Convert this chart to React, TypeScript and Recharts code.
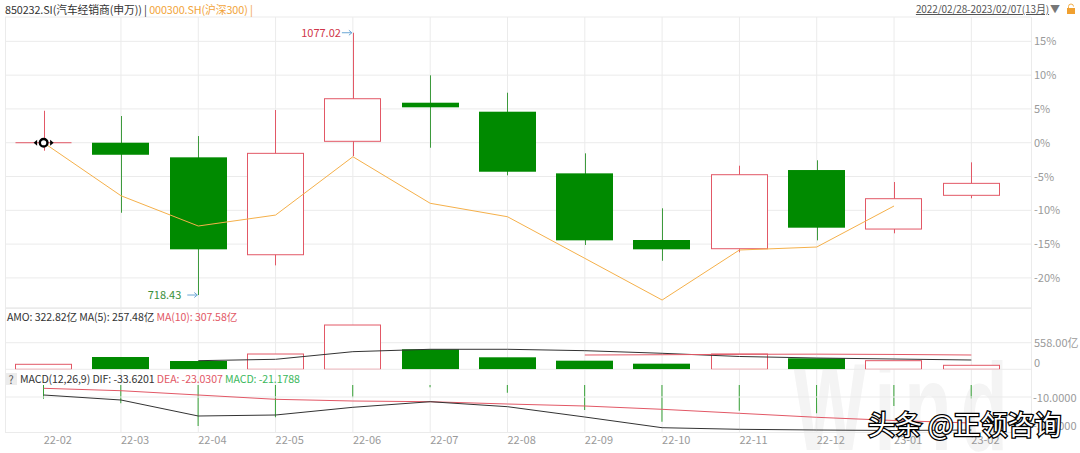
import React from "react";
import {
  ComposedChart,
  Bar,
  Line,
  XAxis,
  YAxis,
  CartesianGrid,
  ReferenceLine,
  ReferenceDot,
} from "recharts";

const W = 1080;
const H = 453;
const FONT = "'Noto Sans CJK SC', 'Noto Sans', sans-serif";

const RED = "#e25866";
const GREEN = "#008a00";
const GREEN_WICK = "#3d9a3d";
const MACD_GREEN = "#35a035";
const ORANGE = "#f5b04a";
const GRID = "#ebebeb";
const AXIS_TEXT = "#9a9a9a";

// months (x axis)
const months = [
  "22-02", "22-03", "22-04", "22-05", "22-06", "22-07", "22-08",
  "22-09", "22-10", "22-11", "22-12", "23-01", "23-02",
];

// 850232.SI monthly candles, % change vs. 22-02 close
const openPct = [0, 0, -2.16, -16.57, 0.21, 5.92, 4.59, -4.53, -14.39, -15.68, -4.04, -12.77, -7.78];
const highPct = [4.73, 3.95, 0.99, 4.84, 16.27, 9.97, 7.4, -1.57, -9.7, -3.4, -2.6, -5.81, -2.9];
const lowPct = [-1.18, -10.36, -22.53, -18.14, -1.97, -0.74, -4.82, -15.13, -17.46, -16.21, -14.44, -13.4, -8.22];
const closePct = [0, -1.78, -15.77, -1.57, 6.51, 5.24, -4.29, -14.44, -15.77, -4.73, -12.57, -8.28, -6.01];

// 000300.SH, % change
const hs300Pct = [0, -7.84, -12.32, -10.7, -2.07, -8.96, -10.95, -17.1, -23.27, -15.87, -15.43, -9.36, null];

// turnover (亿) and its moving averages
const amo = [105, 258, 174, 321, 930, 420, 252, 181, 118, 321, 231, 181, 84];
const amoMa5 = [null, null, 181, 210, 370, 420, 420, 391, 336, 269, 237, 216, 195];
const amoMa10 = [null, null, null, null, null, null, null, 300, 306, 315, 318, 312, 300];

// MACD(12,26,9)
const dif = [-8.55, -12.18, -23.82, -23.09, -17.49, -13.42, -17.05, -24.55, -32.33, -33.49, -34.0, -34.36, -34.0];
const dea = [-3.67, -5.42, -8.55, -11.67, -12.91, -13.42, -15.09, -16.55, -18.95, -21.85, -24.76, -27.09, -28.91];
const macdHist = [-11.24, -14.58, -31.09, -24.76, -10.22, -2.95, -6.87, -19.45, -27.96, -19.96, -21.85, -16.55, -10.95];

const pctTicks = [15, 10, 5, 0, -5, -10, -15, -20];
const amoTicks = [0, 558];
const macdTicks = [-10, -30];

const HIGH_PRICE = "1077.02";
const LOW_PRICE = "718.43";

const rows = months.map((month, i) => ({
  month,
  open: openPct[i],
  high: highPct[i],
  low: lowPct[i],
  close: closePct[i],
  range: [lowPct[i], highPct[i]],
  hs300: hs300Pct[i],
  amo: amo[i],
  ma5: amoMa5[i],
  ma10: amoMa10[i],
  dif: dif[i],
  dea: dea[i],
  hist: macdHist[i],
}));

const highIdx = highPct.indexOf(Math.max(...highPct));
const lowIdx = lowPct.indexOf(Math.min(...lowPct));

const X_PAD = { left: 0, right: 21 };

function Candle(props: any) {
  const { x, y, width, height, payload } = props;
  const { open, close, high, low } = payload;
  const py = (v: number) => y + ((high - v) / (high - low)) * height;
  const cx = Math.round(x + width / 2) + 0.5;
  const up = close >= open;
  const top = py(Math.max(open, close));
  const bot = py(Math.min(open, close));
  const left = Math.round(x) + 0.5;
  const w = Math.round(width) - 1;
  return (
    <g>
      <line x1={cx} x2={cx} y1={y} y2={y + height} stroke={up ? RED : GREEN_WICK} />
      {open === close ? (
        <line x1={left} x2={left + w} y1={top} y2={top} stroke={RED} />
      ) : up ? (
        <rect x={left} y={top} width={w} height={bot - top} fill="#fff" stroke={RED} />
      ) : (
        <rect x={left - 0.5} y={top} width={w + 1} height={bot - top} fill={GREEN} />
      )}
    </g>
  );
}

function VolBar(props: any) {
  const { x, y, width, height, payload } = props;
  const up = payload.close >= payload.open;
  const left = Math.round(x) + 0.5;
  const w = Math.round(width) - 1;
  return up ? (
    <rect x={left} y={y} width={w} height={height} fill="#fff" stroke={RED} />
  ) : (
    <rect x={left - 0.5} y={y} width={w + 1} height={height} fill={GREEN} />
  );
}

function HighMark(props: any) {
  const { cx, cy } = props;
  return (
    <g>
      <text x={cx - 12} y={cy + 4} textAnchor="end" fill="#d0364a" fontSize={11}>
        {HIGH_PRICE}
      </text>
      <line x1={cx - 11} x2={cx - 1} y1={cy} y2={cy} stroke="#6aa6d6" />
      <path d={`M${cx - 4},${cy - 2.5} L${cx - 1},${cy} L${cx - 4},${cy + 2.5}`} fill="none" stroke="#6aa6d6" />
    </g>
  );
}

function LowMark(props: any) {
  const { cx, cy } = props;
  return (
    <g>
      <text x={cx - 17} y={cy + 4} textAnchor="end" fill="#3a8f3a" fontSize={11}>
        {LOW_PRICE}
      </text>
      <line x1={cx - 11} x2={cx - 1} y1={cy} y2={cy} stroke="#6aa6d6" />
      <path d={`M${cx - 4},${cy - 2.5} L${cx - 1},${cy} L${cx - 4},${cy + 2.5}`} fill="none" stroke="#6aa6d6" />
    </g>
  );
}

function CursorMark(props: any) {
  const { cx, cy } = props;
  return (
    <g>
      <path d={`M${cx - 10},${cy} l3.5,-3 v6 z`} fill="#000" />
      <path d={`M${cx + 10},${cy} l-3.5,-3 v6 z`} fill="#000" />
      <circle cx={cx} cy={cy} r={3.8} fill="#fff" stroke="#000" strokeWidth={2.4} />
    </g>
  );
}

const PctTick = ({ y, payload }: any) => (
  <text x={1034} y={y + 4} fill={AXIS_TEXT} fontSize={11}>
    {payload.value}%
  </text>
);

const AmoTick = ({ y, payload }: any) => (
  <text x={1034} y={payload.value === 0 ? y - 2 : y + 4.5} fill={AXIS_TEXT} fontSize={11}>
    {payload.value === 0 ? "0" : `${payload.value.toFixed(2)}亿`}
  </text>
);

const MacdTick = ({ y, payload }: any) => (
  <text x={1033} y={y + 5} fill={AXIS_TEXT} fontSize={11}>
    {payload.value.toFixed(4)}
  </text>
);

const MonthTick = ({ x, payload }: any) => (
  <text x={x} y={443.5} fill={AXIS_TEXT} fontSize={11}>
    {payload.value}
  </text>
);

const layer: React.CSSProperties = { position: "absolute", left: 0, top: 0 };
const legendText: React.CSSProperties = {
  position: "absolute",
  fontSize: 10.6,
  lineHeight: "16px",
  whiteSpace: "nowrap",
  letterSpacing: -0.1,
};

export default function App() {
  return (
    <div
      style={{
        position: "absolute",
        left: 0,
        top: 0,
        width: W,
        height: H,
        overflow: "hidden",
        background: "#fff",
        fontFamily: FONT,
      }}
    >
      {/* watermark */}
      <div
        style={{
          position: "absolute",
          left: 793,
          top: 344,
          fontFamily: "'Liberation Sans', sans-serif",
          fontWeight: 700,
          fontSize: 125,
          lineHeight: 1,
          letterSpacing: 14,
          color: "#f4f4f4",
          transform: "scaleX(0.62)",
          transformOrigin: "left top",
        }}
      >
        Wind
      </div>

      {/* frame */}
      <div
        style={{
          position: "absolute",
          left: 5,
          top: 17,
          width: 1027,
          height: 416,
          boxSizing: "border-box",
          borderLeft: `1px solid ${GRID}`,
          borderRight: `1px solid ${GRID}`,
          borderBottom: `1px solid ${GRID}`,
        }}
      />
      <div style={{ position: "absolute", left: 5, top: 308, width: 1026, height: 1, background: GRID }} />

      {/* vertical grid */}
      <div style={layer}>
        <ComposedChart width={W} height={H} data={rows} margin={{ top: 17, bottom: 20.7, left: 5, right: 4 }}>
          <XAxis dataKey="month" scale="band" padding={X_PAD} hide />
          <YAxis orientation="right" width={45} tick={false} axisLine={false} tickLine={false} />
          <Line dataKey="amo" stroke="none" dot={false} activeDot={false} isAnimationActive={false} />
          {months.slice(1).map((m) => (
            <ReferenceLine key={m} x={m} stroke={GRID} />
          ))}
        </ComposedChart>
      </div>

      {/* price panel */}
      <div style={layer}>
        <ComposedChart width={W} height={H} data={rows} margin={{ top: 17, bottom: 145, left: 5, right: 4 }}>
          <CartesianGrid vertical={false} stroke={GRID} />
          <XAxis dataKey="month" scale="band" padding={X_PAD} hide />
          <YAxis
            orientation="right"
            width={45}
            domain={[-24.45, 18.6]}
            allowDataOverflow
            ticks={pctTicks}
            interval={0}
            tick={<PctTick />}
            axisLine={false}
            tickLine={false}
          />
          <Bar dataKey="range" barSize={57} shape={<Candle />} isAnimationActive={false} />
          <Line
            dataKey="hs300"
            stroke={ORANGE}
            strokeWidth={1}
            dot={false}
            activeDot={false}
            isAnimationActive={false}
          />
          <ReferenceDot x={months[highIdx]} y={highPct[highIdx]} r={0} shape={HighMark} />
          <ReferenceDot x={months[lowIdx]} y={lowPct[lowIdx]} r={0} shape={LowMark} />
          <ReferenceDot x={months[0]} y={closePct[0]} r={0} shape={CursorMark} />
        </ComposedChart>
      </div>

      {/* turnover panel */}
      <div style={layer}>
        <ComposedChart width={W} height={H} data={rows} margin={{ top: 308, bottom: 83.7, left: 5, right: 4 }}>
          <CartesianGrid vertical={false} stroke={GRID} />
          <XAxis dataKey="month" scale="band" padding={X_PAD} hide />
          <YAxis
            orientation="right"
            width={45}
            domain={[0, 1287]}
            allowDataOverflow
            ticks={amoTicks}
            interval={0}
            tick={<AmoTick />}
            axisLine={false}
            tickLine={false}
          />
          <Bar dataKey="amo" barSize={57} shape={<VolBar />} isAnimationActive={false} />
          <Line dataKey="ma5" stroke="#333" strokeWidth={1} dot={false} activeDot={false} isAnimationActive={false} />
          <Line dataKey="ma10" stroke={RED} strokeWidth={1} dot={false} activeDot={false} isAnimationActive={false} />
        </ComposedChart>
      </div>

      {/* MACD panel */}
      <div style={layer}>
        <ComposedChart width={W} height={H} data={rows} margin={{ top: 385, bottom: 0.7, left: 5, right: 4 }}>
          <XAxis
            dataKey="month"
            scale="band"
            padding={X_PAD}
            height={20}
            interval={0}
            tick={<MonthTick />}
            axisLine={false}
            tickLine={false}
          />
          <YAxis
            orientation="right"
            width={45}
            domain={[-35.67, -1.27]}
            allowDataOverflow
            ticks={macdTicks}
            interval={0}
            tick={<MacdTick />}
            axisLine={false}
            tickLine={false}
          />
          <ReferenceLine y={-10} stroke={GRID} />
          <Bar dataKey="hist" barSize={1} fill={MACD_GREEN} isAnimationActive={false} />
          <Line dataKey="dea" stroke={RED} strokeWidth={1} dot={false} activeDot={false} isAnimationActive={false} />
          <Line dataKey="dif" stroke="#333" strokeWidth={1} dot={false} activeDot={false} isAnimationActive={false} />
        </ComposedChart>
      </div>

      {/* header */}
      <div style={{ ...legendText, left: 5, top: 1, fontSize: 10.8 }}>
        <span style={{ color: "#333" }}>850232.SI(汽车经销商(申万)) | </span>
        <span style={{ color: "#f2a43a" }}>000300.SH(沪深300) |</span>
      </div>
      <div
        style={{
          ...legendText,
          right: 4,
          top: 1,
          fontSize: 10,
          color: "#555",
          display: "flex",
          alignItems: "center",
        }}
      >
        <span style={{ textDecoration: "underline" }}>2022/02/28-2023/02/07(13月)</span>
        <span style={{ color: "#777", fontSize: 10, marginLeft: 1 }}>▼</span>
        <svg width={10} height={12} style={{ marginLeft: 6 }}>
          <path d="M2.5,5 V3.5 a2.5,2.5 0 0 1 5,0" fill="none" stroke="#f0b050" strokeWidth={1} />
          <rect x={1} y={5} width={8} height={6} fill="#f0a030" />
        </svg>
      </div>

      {/* turnover legend */}
      <div style={{ ...legendText, left: 7, top: 309 }}>
        <span style={{ color: "#333" }}>AMO: 322.82亿 MA(5): 257.48亿 </span>
        <span style={{ color: RED }}>MA(10): 307.58亿</span>
      </div>

      {/* MACD legend */}
      <div
        style={{
          position: "absolute",
          left: 5,
          top: 373,
          width: 12,
          height: 12,
          background: "#ececec",
          color: "#555",
          fontSize: 11,
          lineHeight: "12px",
          textAlign: "center",
        }}
      >
        ?
      </div>
      <div style={{ ...legendText, left: 20, top: 371 }}>
        <span style={{ color: "#333" }}>MACD(12,26,9) DIF: -33.6201 </span>
        <span style={{ color: RED }}>DEA: -23.0307 </span>
        <span style={{ color: "#3cb85c" }}>MACD: -21.1788</span>
      </div>

      {/* overlay caption */}
      <svg width={W} height={H} style={{ position: "absolute", left: 0, top: 0 }}>
        <text
          x={868}
          y={435}
          fontSize={27}
          fill="#fff"
          stroke="#000"
          strokeWidth={2.6}
          paintOrder="stroke"
          fontFamily={FONT}
        >
          头条 @正领咨询
        </text>
      </svg>
    </div>
  );
}
